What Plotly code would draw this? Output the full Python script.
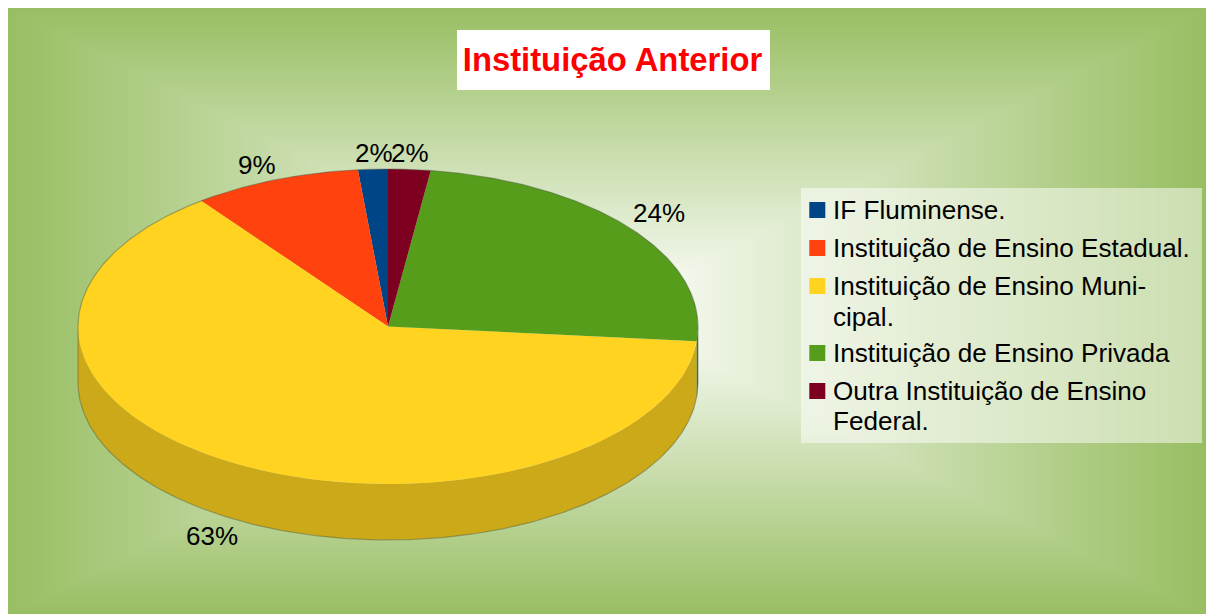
"""Instituição Anterior: 3D style pie, drawn as filled scatter polygons."""

import numpy as np
import plotly.graph_objects as go

# Data
CATEGORIES = [
    "IF Fluminense.",
    "Instituição de Ensino Estadual.",
    "Instituição de Ensino Muni-<br>cipal.",
    "Instituição de Ensino Privada",
    "Outra Instituição de Ensino<br>Federal.",
]
SHARES = [1.55, 8.75, 63.2, 24.3, 2.2]
LABELS = ["2%", "9%", "63%", "24%", "2%"]

COLORS = ["#004586", "#ff420e", "#ffd320", "#579d1c", "#7e0021"]
SIDE_COLORS = ["#00376b", "#cc350b", "#cca918", "#467e16", "#65001a"]

# Pie geometry in page pixels
CX, CY = 388, 326.5
RX, RY = 310, 157.5
DEPTH = 56
# label shift from the rim point of each slice
LABEL_SHIFT = [(1, -16), (-18, -15), (-25, 16), (28, -16), (1, -16)]

# Legend rows in page pixels, one per text line
LEGEND_ROWS = [[210], [248], [286, 317], [353], [391, 421]]

FONT = "Liberation Sans"


def rim(theta):
    # theta is clockwise from the top of the pie, radians
    return CX + RX * np.sin(theta), CY - RY * np.cos(theta)


fig = go.Figure()

# --- Background gradient (rectangular) ---
gx = np.linspace(8, 1206, 241)
gy = np.linspace(8, 614, 121)
xx, yy = np.meshgrid(gx, gy)
grad = np.maximum(np.abs(xx - 607) / 599, np.abs(yy - 311) / 303)
fig.add_trace(
    go.Heatmap(
        x=gx,
        y=gy,
        z=grad,
        zmin=0,
        zmax=1,
        zsmooth="best",
        colorscale=[[0, "#ffffff"], [1, "#98be62"]],
        showscale=False,
        hoverinfo="skip",
    )
)

# Slices run counter clockwise from the top
ends = -np.cumsum(SHARES) / 100 * 2 * np.pi
starts = np.concatenate(([0.0], ends[:-1]))

# --- Side wall, only where the rim faces the viewer ---
for a0, a1, side in zip(starts, ends, SIDE_COLORS):
    t = np.linspace(a0, a1, 160)
    t = t[np.cos(t) <= 0]
    if len(t) < 2:
        continue
    x, y = rim(t)
    fig.add_trace(
        go.Scatter(
            x=np.concatenate((x, x[::-1])),
            y=np.concatenate((y, y[::-1] + DEPTH)),
            mode="lines",
            fill="toself",
            fillcolor=side,
            line=dict(width=0),
            hoverinfo="skip",
            showlegend=False,
        )
    )

# --- Top face ---
for a0, a1, color in zip(starts, ends, COLORS):
    t = np.linspace(a0, a1, 160)
    x, y = rim(t)
    fig.add_trace(
        go.Scatter(
            x=np.concatenate(([CX], x, [CX])),
            y=np.concatenate(([CY], y, [CY])),
            mode="lines",
            fill="toself",
            fillcolor=color,
            line=dict(width=0),
            hoverinfo="skip",
            showlegend=False,
        )
    )

# --- Thin outline around the solid ---
t = np.linspace(-np.pi / 2, np.pi / 2, 300)
x, y = rim(t)
t2 = np.linspace(np.pi / 2, 3 * np.pi / 2, 300)
x2, y2 = rim(t2)
fig.add_trace(
    go.Scatter(
        x=np.concatenate((x, x2, x[:1])),
        y=np.concatenate((y, y2 + DEPTH, y[:1])),
        mode="lines",
        line=dict(color="rgba(70,80,60,0.4)", width=1.2),
        hoverinfo="skip",
        showlegend=False,
    )
)

# --- Legend box, swatches and text ---
fig.add_trace(
    go.Scatter(
        x=[801, 1202, 1202, 801, 801],
        y=[188, 188, 443, 443, 188],
        mode="lines",
        fill="toself",
        fillcolor="rgba(255,255,255,0.5)",
        line=dict(width=0),
        hoverinfo="skip",
        showlegend=False,
    )
)
fig.add_trace(
    go.Scatter(
        x=[817.3] * len(COLORS),
        y=[rows[0] for rows in LEGEND_ROWS],
        mode="markers",
        marker=dict(symbol="square", size=16, color=COLORS),
        hoverinfo="skip",
        showlegend=False,
    )
)
for name, rows in zip(CATEGORIES, LEGEND_ROWS):
    for line, row in zip(name.split("<br>"), rows):
        fig.add_annotation(
            x=833,
            y=row,
            text=line,
            showarrow=False,
            xanchor="left",
            xshift=-2,
            font=dict(family=FONT, size=26.1, color="#000000"),
        )

# --- Percent labels ---
mids = (starts + ends) / 2
for mid, label, shift in zip(mids, LABELS, LABEL_SHIFT):
    x, y = rim(mid)
    if np.cos(mid) < 0:
        y += DEPTH
    fig.add_annotation(
        x=x,
        y=y,
        text=label,
        showarrow=False,
        xshift=shift[0],
        yshift=-shift[1],
        font=dict(family=FONT, size=26, color="#000000"),
    )

# --- Layout ---
fig.update_layout(
    width=1206,
    height=614,
    margin=dict(l=8, r=0, t=8, b=0),
    paper_bgcolor="#ffffff",
    plot_bgcolor="#ffffff",
    title=dict(
        text="<b>Instituição Anterior</b>",
        font=dict(family=FONT, size=32.8, color="#ff0000"),
        x=612.5 / 1206,
        xanchor="center",
        y=1 - 59.5 / 614,
        yanchor="middle",
    ),
    xaxis=dict(range=[8, 1206], visible=False),
    yaxis=dict(range=[614, 8], visible=False),
    shapes=[
        dict(type="rect", x0=457, x1=770, y0=30, y1=90, fillcolor="#ffffff", line_width=0, layer="above"),
    ],
    showlegend=False,
)

fig.write_html(
    "out.html",
    config={"displayModeBar": False},
    post_script="document.body.style.margin = '0';",
)
